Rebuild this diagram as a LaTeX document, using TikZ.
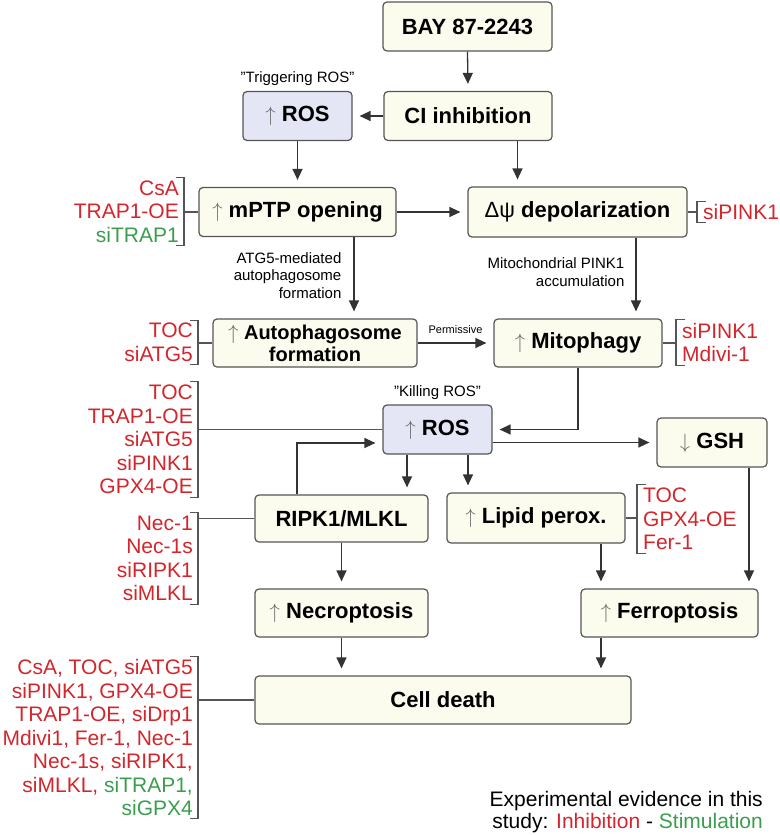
\documentclass[tikz,border=0pt]{standalone}
\usepackage{fontspec}
\setmainfont{Liberation Sans}
\usepackage{tikz}
\usepackage{xcolor}
\usetikzlibrary{arrows.meta, positioning, calc}
\definecolor{cRed}{RGB}{210,38,44}
\definecolor{cGreen}{RGB}{58,158,78}
\definecolor{cBox}{RGB}{252,252,238}
\definecolor{cRos}{RGB}{228,230,245}
\definecolor{cLine}{RGB}{85,85,85}
\definecolor{cArw}{RGB}{105,105,105}
\newcommand{\incr}{{\color{cArw}$\uparrow$}}
\newcommand{\decr}{{\color{cArw}$\downarrow$}}
\tikzset{
	box/.style    ={rectangle, rounded corners=4pt, draw=cLine, line width=1.2pt, fill=cBox, align=center, inner sep=0pt, font=\bfseries\fontsize{22}{24}\selectfont},
	rosbox/.style ={box, fill=cRos},
	lbl/.style    ={font=\fontsize{15}{17.5}\selectfont, align=right, inner sep=0pt},
	lstL/.style   ={font=\fontsize{21}{23.5}\selectfont, align=right, text=cRed, inner xsep=0pt, inner ysep=3pt, anchor=east},
	lstR/.style   ={lstL, align=left, anchor=west},
	flow/.style   ={-{Triangle[length=11pt, width=10pt]}, line width=1.3pt, draw=black!80, shorten >=7pt},
	% bracket lines to the evidence lists
	brk/.style    ={line width=1.1pt, draw=cLine},
}

\begin{document}
\begin{tikzpicture}[x=1pt, y=-1pt]
	\useasboundingbox (0,0) rectangle (779,835);
	% boxes
	\node[box, minimum width=169, minimum height=49] (bay) at (467.5,26.5) {BAY 87-2243};
	\node[box, minimum width=168, minimum height=49] (ci) at (468,116) {CI inhibition};
	\node[rosbox, minimum width=109, minimum height=49] (rosT) at (297.5,116) {\incr\ ROS};
	\node[box, minimum width=197, minimum height=49] (mptp) at (297.5,212) {\incr\ mPTP opening};
	\node[box, minimum width=219, minimum height=50] (dpsi) at (577.5,212) {{\mdseries Δψ} depolarization};
	\node[box, minimum width=204, minimum height=48, font=\bfseries\fontsize{20}{22}\selectfont] (auto) at (315,343) {\incr\ Autophagosome\\formation};
	\node[box, minimum width=168, minimum height=48] (mito) at (578,343) {\incr\ Mitophagy};
	\node[rosbox, minimum width=109, minimum height=49] (rosK) at (437.5,429.5) {\incr\ ROS};
	\node[box, minimum width=110, minimum height=49] (gsh) at (712,442.5) {\decr\ GSH};
	\node[box, minimum width=173, minimum height=47] (ripk) at (341.5,518.5) {RIPK1/MLKL};
	\node[box, minimum width=178, minimum height=50] (lipid) at (536,518) {\incr\ Lipid perox.};
	\node[box, minimum width=173, minimum height=48] (necro) at (341.5,613) {\incr\ Necroptosis};
	\node[box, minimum width=177, minimum height=48] (ferro) at (669.5,613) {\incr\ Ferroptosis};
	\node[box, minimum width=376, minimum height=48] (death) at (443,700) {Cell death};
	\node[lbl, above=5pt of rosT] (trig) {\char34 Triggering ROS\char34};
	\node[lbl, above=5pt of rosK] (kill) {\char34 Killing ROS\char34};

	% arrows
	\draw[flow] (bay.south) -- (ci.north);
	\draw[flow] (ci.west) -- (rosT.east);
	\draw[flow] (rosT.south) -- (mptp.north);
	\coordinate (c1) at ([xshift=49.5pt]ci.south);
	\draw[flow] (c1) -- (c1 |- dpsi.north);
	\draw[flow] (mptp.east) -- (dpsi.west);
	\coordinate (m1) at ([xshift=56.5pt]mptp.south);
	\draw[flow] (m1) -- (m1 |- auto.north) node[pos=0.47, left=12pt, lbl] {ATG5-mediated\\autophagosome\\formation};
	\coordinate (d1) at ([xshift=58.5pt]dpsi.south);
	\draw[flow] (d1) -- (d1 |- mito.north) node[pos=0.43, left=11pt, lbl] {Mitochondrial PINK1\\accumulation};
	\draw[flow] (auto.east) -- (mito.west) node[midway, above=9pt, inner sep=0pt, font=\fontsize{11}{12}\selectfont] {Permissive};
	\draw[flow] (mito.south) |- (rosK.east);
	\draw[flow] (rosK.east |- gsh.west) -- (gsh.west);
	\coordinate (k1) at ([xshift=-30.5pt]rosK.south);
	\draw[flow] (k1) -- (k1 |- ripk.north);
	\coordinate (k2) at ([xshift=30.5pt]rosK.south);
	\draw[flow] (k2) -- (k2 |- lipid.north);
	\coordinate (r1) at ([xshift=-44.5pt]ripk.north);
	\draw[flow] (r1) |- ([yshift=-13.5pt]rosK.west);
	\draw[flow] (ripk.south) -- (necro.north);
	\coordinate (l1) at ([xshift=65pt]lipid.south);
	\draw[flow] (l1) -- (l1 |- ferro.north);
	\coordinate (g1) at ([xshift=37pt]gsh.south);
	\draw[flow] (g1) -- (g1 |- ferro.north);
	\draw[flow] (necro.south) -- (necro.south |- death.north);
	\coordinate (f1) at ([xshift=-68.5pt]ferro.south);
	\draw[flow] (f1) -- (f1 |- death.north);

	% evidence lists
	\node[lstL] (lMptp) at (179,211.5) {CsA\\TRAP1-OE\\{\color{cGreen}siTRAP1}};
	\node[lstL] (lAuto) at (193,342.5) {TOC\\siATG5};
	\node[lstL] (lRos) at (193,439.5) {TOC\\TRAP1-OE\\siATG5\\siPINK1\\GPX4-OE};
	\node[lstL] (lRipk) at (193,558.5) {Nec-1\\Nec-1s\\siRIPK1\\siMLKL};
	\node[lstL] (lDeath) at (193,737.5) {CsA, TOC, siATG5\\siPINK1, GPX4-OE\\TRAP1-OE, siDrp1\\Mdivi1, Fer-1, Nec-1\\Nec-1s, siRIPK1,\\siMLKL, {\color{cGreen}siTRAP1,}\\{\color{cGreen}siGPX4}};
	\node[lstR] (rDpsi) at (703,212) {siPINK1};
	\node[lstR] (rMito) at (682,342.5) {siPINK1\\Mdivi-1};
	\node[lstR] (rLipid) at (643,519) {TOC\\GPX4-OE\\Fer-1};

	% brackets
	\foreach \l/\b in {lMptp/mptp, lAuto/auto, lRos/rosK, lRipk/ripk, lDeath/death} {
		\draw[brk] ([xshift=-3pt]\l.north east) -- ([xshift=5pt]\l.north east) -- ([xshift=5pt]\l.south east) -- ([xshift=-3pt]\l.south east);
		\coordinate (bx) at ([xshift=5pt]\l.east);
		\draw[brk] (bx |- \b.west) -- (\b.west);
	}
	\foreach \l/\b in {rDpsi/dpsi, rMito/mito, rLipid/lipid} {
		\draw[brk] ([xshift=3pt]\l.north west) -- ([xshift=-6pt]\l.north west) -- ([xshift=-6pt]\l.south west) -- ([xshift=3pt]\l.south west);
		\coordinate (bx) at ([xshift=-6pt]\l.west);
		\draw[brk] (\b.east) -- (\b.east -| bx);
	}

	\node[font=\fontsize{21}{22.5}\selectfont, align=right, anchor=east, inner sep=0pt] (legend) at (763,812) {Experimental evidence in this\\study: {\color{cRed}Inhibition} - {\color{cGreen}Stimulation}};
\end{tikzpicture}
\end{document}
